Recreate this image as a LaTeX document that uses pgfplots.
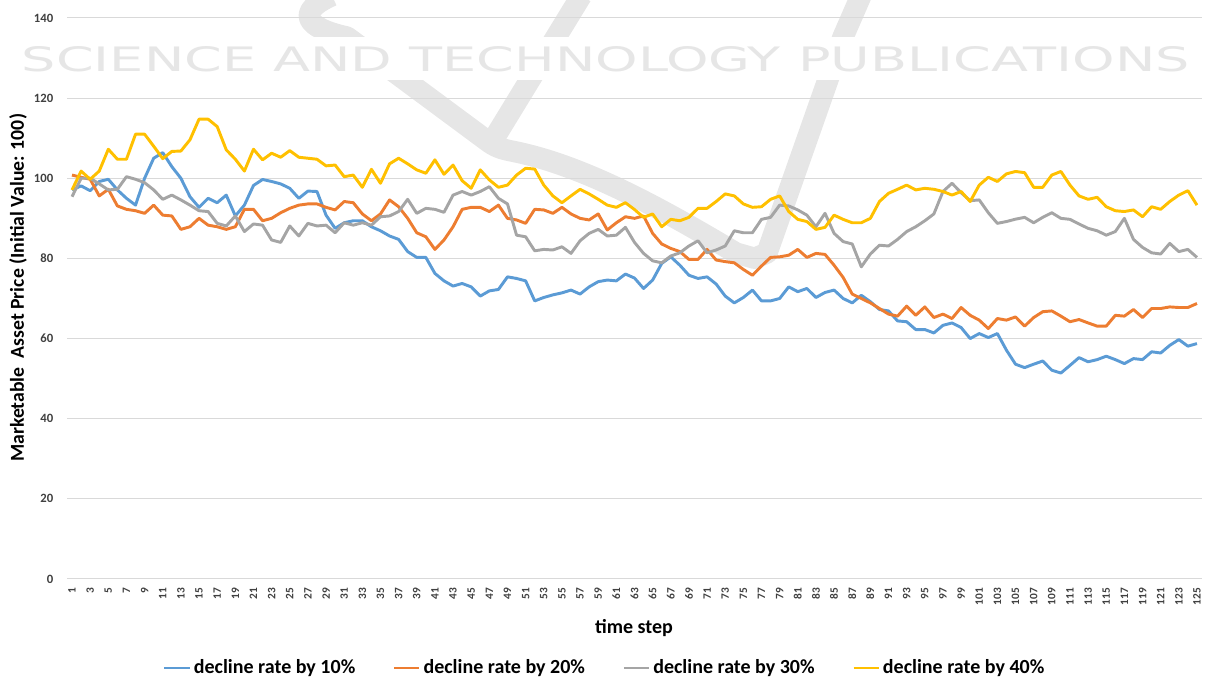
\documentclass[border=0pt]{standalone}
\usepackage{fontspec}
\setmainfont{Carlito}
\newfontfamily\wmfont{DejaVu Sans}
\usepackage{graphicx}
\usepackage{pgfplots}
\usepackage{pgfplotstable}
\pgfplotsset{compat=1.18}
\definecolor{cblue}{HTML}{5B9BD5}
\definecolor{corange}{HTML}{ED7D31}
\definecolor{cgray}{HTML}{A5A5A5}
\definecolor{cyellow}{HTML}{FFC000}
\definecolor{gridc}{HTML}{D9D9D9}
\definecolor{tickc}{HTML}{404040}
\definecolor{wm}{HTML}{E6E6E6}

\pgfplotstableread{
t a b c d
1 97.1 100.8 95.4 97.1
2 98.1 100.25 100 101.8
3 96.9 99.75 100 99.75
4 99.2 95.6 98.6 101.8
5 99.75 97.25 97.1 107.25
6 97.1 93.1 97.25 104.75
7 95 92.25 100.4 104.75
8 93.3 91.9 99.75 111
9 100 91.25 98.9 111
10 105 93.3 97.1 108
11 106.4 90.8 94.75 104.9
12 102.9 90.6 95.8 106.7
13 100 87.25 94.6 106.8
14 95.4 87.9 93.3 109.6
15 92.75 90 91.9 114.75
16 95 88.3 91.7 114.75
17 93.9 87.9 88.75 112.9
18 95.8 87.25 88.1 107.1
19 90.6 87.9 90.6 104.75
20 93.3 92.25 86.7 101.8
21 98.2 92.25 88.6 107.25
22 99.7 89.4 88.3 104.6
23 99.2 90 84.6 106.25
24 98.6 91.4 84 105.25
25 97.5 92.5 88.1 106.9
26 95 93.3 85.6 105.25
27 96.8 93.6 88.75 105
28 96.7 93.6 88.1 104.75
29 90.8 92.75 88.3 103.1
30 87.5 92.1 86.4 103.3
31 88.9 94.2 88.9 100.4
32 89.4 93.9 88.3 100.8
33 89.4 91.1 88.9 97.75
34 87.9 89.4 88.3 102.25
35 86.9 91.1 90.4 98.75
36 85.6 94.6 90.6 103.6
37 84.75 92.9 91.7 105
38 81.7 90 94.75 103.6
39 80.25 86.4 91.25 102.1
40 80.25 85.4 92.5 101.25
41 76.25 82.25 92.25 104.6
42 74.4 84.6 91.5 101
43 73.1 87.9 95.8 103.3
44 73.75 92.25 96.7 99.4
45 72.9 92.75 95.8 97.5
46 70.6 92.75 96.7 102.1
47 71.9 91.7 97.9 99.6
48 72.25 93.3 95 97.75
49 75.4 90 93.6 98.3
50 75 89.6 85.8 100.8
51 74.4 88.75 85.4 102.5
52 69.4 92.25 81.9 102.3
53 70.25 92.1 82.25 98.3
54 70.9 91.25 82.1 95.6
55 71.4 92.75 82.9 93.9
56 72.1 91.1 81.25 95.6
57 71.1 90 84.4 97.25
58 72.9 89.6 86.25 96.1
59 74.2 91.1 87.25 94.75
60 74.6 87.1 85.6 93.3
61 74.4 88.9 85.8 92.75
62 76.1 90.4 87.75 93.9
63 75.1 90 84 92.2
64 72.5 90.6 81.25 90.25
65 74.6 86.25 79.4 91.1
66 78.75 83.6 78.9 87.9
67 80.4 82.5 80.6 89.75
68 78.3 81.7 81.4 89.4
69 75.8 79.75 83.1 90.25
70 75 79.75 84.4 92.5
71 75.4 82.25 81.4 92.5
72 73.6 79.6 82.1 94.2
73 70.6 79.2 83.1 96.1
74 68.9 78.9 86.9 95.6
75 70.25 77.25 86.4 93.6
76 72.1 75.8 86.4 92.75
77 69.4 78.1 89.75 92.9
78 69.4 80.25 90.25 94.75
79 70 80.4 93.3 95.6
80 72.9 80.8 93.1 91.7
81 71.7 82.25 92.1 89.75
82 72.5 80.25 90.8 89.2
83 70.25 81.25 87.9 87.25
84 71.5 81 91.25 87.75
85 72.1 78.3 86.25 90.8
86 70 75.25 84.2 89.75
87 68.9 71.1 83.6 88.9
88 70.8 70 77.9 88.9
89 69.2 68.9 81.1 90
90 67.25 67.5 83.3 94.2
91 66.9 66.1 83.1 96.25
92 64.4 65.6 84.75 97.25
93 64.2 68.1 86.7 98.3
94 62.25 65.8 87.9 97.1
95 62.25 67.9 89.4 97.5
96 61.4 65.25 91.1 97.25
97 63.3 66.1 96.7 96.7
98 63.9 65 98.75 95.8
99 62.75 67.75 96.4 96.7
100 60 65.8 94.4 94.2
101 61.25 64.6 94.6 98.3
102 60.25 62.5 91.4 100.25
103 61.25 65 88.75 99.2
104 57.1 64.6 89.2 101.1
105 53.6 65.4 89.8 101.7
106 52.75 63.1 90.25 101.4
107 53.6 65.25 88.9 97.75
108 54.4 66.7 90.25 97.75
109 52.1 66.9 91.4 100.8
110 51.4 65.6 90 101.7
111 53.3 64.2 89.75 98.3
112 55.25 64.75 88.6 95.6
113 54.2 63.9 87.5 94.75
114 54.75 63.1 86.9 95.25
115 55.6 63.1 85.8 92.9
116 54.75 65.8 86.7 91.9
117 53.75 65.6 90 91.7
118 55 67.25 84.75 92.1
119 54.75 65.25 82.75 90.4
120 56.7 67.5 81.4 92.9
121 56.4 67.5 81.1 92.25
122 58.3 67.9 83.75 94.2
123 59.75 67.75 81.7 95.8
124 58.1 67.75 82.25 96.9
125 58.75 68.75 80.25 93.3
}\datatable

\begin{document}
\begin{tikzpicture}
\path[use as bounding box] (0,0) rectangle (906pt,510.75pt);
% watermark logo
\begin{scope}[wm, line width=16pt, line join=round]
\draw (249pt,514pt) .. controls (222pt,502pt) and (228pt,490pt) .. (260.25pt,483pt) -- (364.5pt,405.75pt)
  .. controls (372pt,400pt) and (376pt,399pt) .. (386pt,397pt)
  .. controls (440pt,386pt) and (500pt,352pt) .. (552pt,321pt) -- (566pt,317pt) -- (575.25pt,321pt) -- (632.25pt,483pt) -- (645.75pt,514pt);
\draw (436pt,514pt) -- (371.25pt,408pt);
\end{scope}
\fill[white] (0pt,450.75pt) rectangle (906pt,483pt);
\node[text=wm, inner sep=0pt] at (454.5pt,466.1pt) {\resizebox{876pt}{18.75pt}{\wmfont SCIENCE AND TECHNOLOGY PUBLICATIONS}};
\begin{axis}[
  at={(50.625pt,76.5pt)}, anchor=south west,
  scale only axis, width=850.5pt, height=420.75pt,
  xmin=0.5, xmax=125.5, ymin=0, ymax=140,
  xtick={1,3,...,125}, ytick={0,20,...,140},
  major tick length=0pt,
  ymajorgrids, major grid style={gridc, line width=0.75pt},
  axis line style={draw=none},
  /pgf/number format/assume math mode=true,
  xticklabel style={font=\fontsize{8.5}{9}\selectfont\bfseries, text=tickc, rotate=90, anchor=east, inner sep=0pt, xshift=-6.5pt},
  yticklabel style={font=\fontsize{9.5}{11}\selectfont\bfseries, text=tickc, anchor=east, inner sep=0pt, xshift=-10.5pt},
  xlabel={time step},
  xlabel style={font=\fontsize{15}{17}\selectfont\bfseries, at={(axis description cs:0.4996,-0.0873)}, anchor=center},
  ylabel={Marketable\ \ Asset Price (Initial Value: 100)},
  ylabel style={font=\fontsize{14.8}{17}\selectfont\bfseries, at={(axis description cs:-0.0437,0.519)}, anchor=center},
  legend columns=4,
  legend style={draw=none, fill=none, font=\fontsize{15}{17}\selectfont\bfseries, at={(0.474,-0.1586)}, anchor=center,
    /tikz/every even column/.append style={column sep=26pt}},
  legend image code/.code={\draw[#1, line width=2.2pt] (0pt,0pt) -- (19pt,0pt);},
  every axis plot/.append style={line width=2.2pt, line join=round, mark=none},
]
\addplot[cblue] table[x=t, y=a] {\datatable};
\addplot[corange] table[x=t, y=b] {\datatable};
\addplot[cgray] table[x=t, y=c] {\datatable};
\addplot[cyellow] table[x=t, y=d] {\datatable};
\legend{decline rate by 10\%, decline rate by 20\%, decline rate by 30\%, decline rate by 40\%}
\end{axis}
\end{tikzpicture}
\end{document}
